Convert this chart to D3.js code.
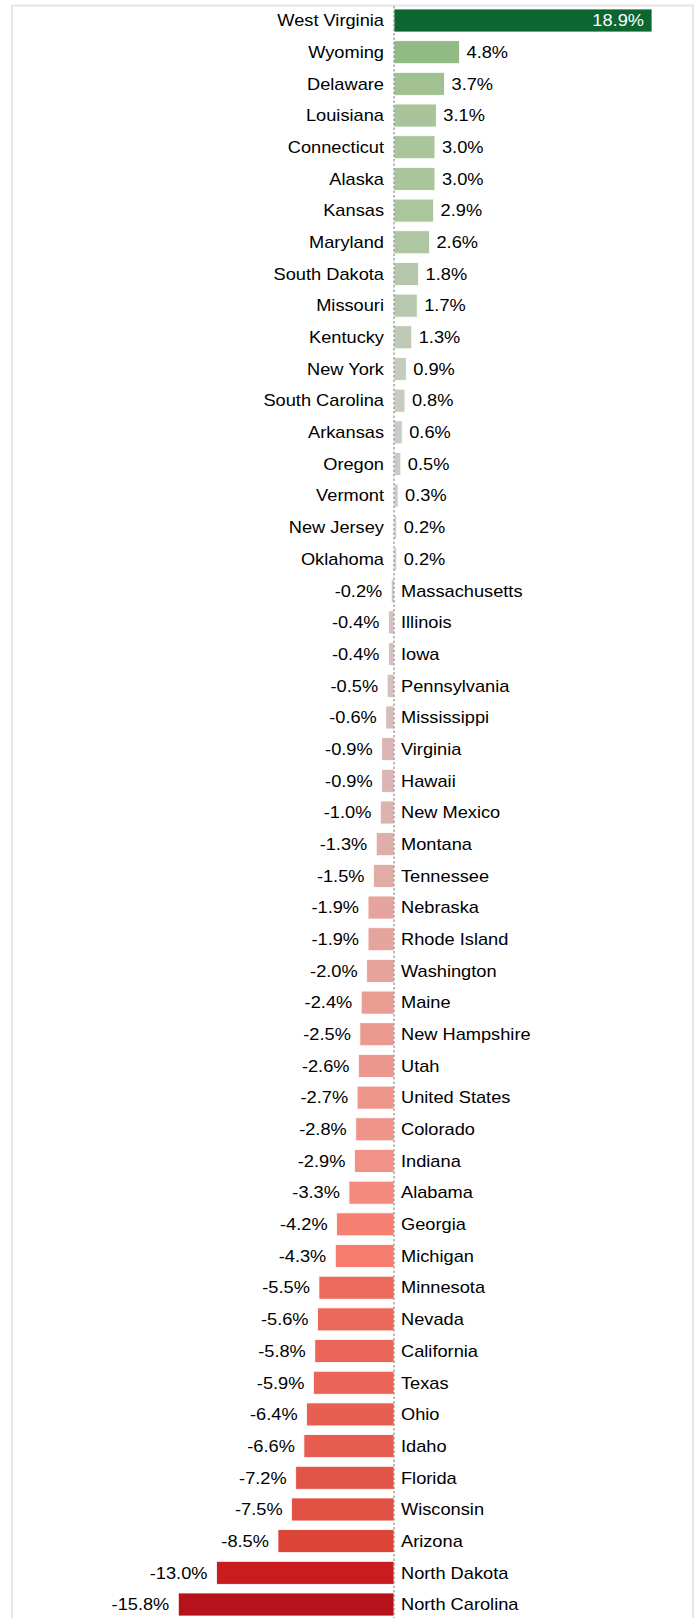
<!DOCTYPE html>
<html>
<head>
<meta charset="utf-8">
<script src="https://cdn.jsdelivr.net/npm/d3@7"></script>
<style>
  html, body { margin: 0; padding: 0; background: #ffffff; }
  svg { display: block; }
  text { font-family: "Liberation Sans", Arial, sans-serif; }
</style>
</head>
<body>
<div id="chart"></div>
<script>
// Percent change by state, sorted from largest gain to largest loss
const states = [
  "West Virginia", "Wyoming", "Delaware", "Louisiana", "Connecticut", "Alaska",
  "Kansas", "Maryland", "South Dakota", "Missouri", "Kentucky", "New York",
  "South Carolina", "Arkansas", "Oregon", "Vermont", "New Jersey", "Oklahoma",
  "Massachusetts", "Illinois", "Iowa", "Pennsylvania", "Mississippi", "Virginia",
  "Hawaii", "New Mexico", "Montana", "Tennessee", "Nebraska", "Rhode Island",
  "Washington", "Maine", "New Hampshire", "Utah", "United States", "Colorado",
  "Indiana", "Alabama", "Georgia", "Michigan", "Minnesota", "Nevada",
  "California", "Texas", "Ohio", "Idaho", "Florida", "Wisconsin", "Arizona",
  "North Dakota", "North Carolina"
];
const changes = [
  18.9, 4.8, 3.7, 3.1, 3.0, 3.0,
  2.9, 2.6, 1.8, 1.7, 1.3, 0.9,
  0.8, 0.6, 0.5, 0.3, 0.2, 0.2,
  -0.2, -0.4, -0.4, -0.5, -0.6, -0.9,
  -0.9, -1.0, -1.3, -1.5, -1.9, -1.9,
  -2.0, -2.4, -2.5, -2.6, -2.7, -2.8,
  -2.9, -3.3, -4.2, -4.3, -5.5, -5.6,
  -5.8, -5.9, -6.4, -6.6, -7.2, -7.5, -8.5,
  -13.0, -15.8
];

const data = states.map((s, i) => ({ state: s, value: changes[i] }));

const width = 698, height = 1618;

const svg = d3.select("#chart").append("svg")
  .attr("width", width)
  .attr("height", height);

// Light panel frame (its bottom edge runs past the page)
svg.append("rect")
  .attr("x", 12).attr("y", 5.5)
  .attr("width", 681).attr("height", height + 20)
  .attr("fill", "none")
  .attr("stroke", "#e6e6e6")
  .attr("stroke-width", 2);

const x = d3.scaleLinear()
  .domain([-15.8, 18.9])
  .range([178.3, 652]);

const y = d3.scaleBand()
  .domain(states)
  .range([9, 1616])
  .paddingInner(0.274)
  .paddingOuter(0);

// Diverging fill: reds for losses, grey near zero, greens for gains
const color = d3.scaleLinear()
  .domain([-15.8, -13.0, -8.5, -5.5, -4.2, -3.3, -2.0, -1.0, -0.2, 0.2, 0.9, 1.8, 3.0, 4.8, 18.9])
  .range(["#b5121b", "#ca1b1f", "#db4437", "#ec6a5c", "#f57f70", "#f48b7e",
          "#e6a39c", "#dbb3af", "#d3c4c3", "#cccccc", "#c4ccbe", "#b7c7ad",
          "#aac59c", "#92bb83", "#0b6630"])
  .clamp(true);

const x0 = x(0);
const sx = 1.14;           // slight horizontal widening of the label glyphs
const fontSize = 16;

svg.append("g")
  .selectAll("rect")
  .data(data)
  .join("rect")
  .attr("x", d => Math.min(x(d.value), x0))
  .attr("y", d => y(d.state))
  .attr("width", d => Math.abs(x(d.value) - x0))
  .attr("height", y.bandwidth())
  .attr("fill", d => color(d.value))
  .attr("stroke", "#ffffff")
  .attr("stroke-width", 0.8);

// Zero reference line
svg.append("line")
  .attr("x1", x0).attr("x2", x0)
  .attr("y1", 6).attr("y2", height)
  .attr("stroke", "#7a7a7a")
  .attr("stroke-width", 1)
  .attr("stroke-dasharray", "2.5,2");

const labels = svg.append("g")
  .attr("font-size", fontSize);

function addText(px, py, str, anchor, fill) {
  labels.append("text")
    .attr("transform", `translate(${px},${py}) scale(${sx},1)`)
    .attr("text-anchor", anchor)
    .attr("dy", "0.36em")
    .attr("fill", fill)
    .text(str);
}

// One decimal place with a plain hyphen for negatives
const fmt = v => (v < 0 ? "-" : "") + Math.abs(v).toFixed(1) + "%";
const topValue = d3.max(changes);

data.forEach(d => {
  const cy = y(d.state) + y.bandwidth() / 2;
  if (d.value >= 0) {
    addText(x0 - 10, cy, d.state, "end", "#000000");
    if (d.value === topValue) {
      addText(x(d.value) - 8, cy, fmt(d.value), "end", "#ffffff");
    } else {
      addText(x(d.value) + 7, cy, fmt(d.value), "start", "#000000");
    }
  } else {
    addText(x0 + 7, cy, d.state, "start", "#000000");
    addText(x(d.value) - 9, cy, fmt(d.value), "end", "#000000");
  }
});
</script>
</body>
</html>
